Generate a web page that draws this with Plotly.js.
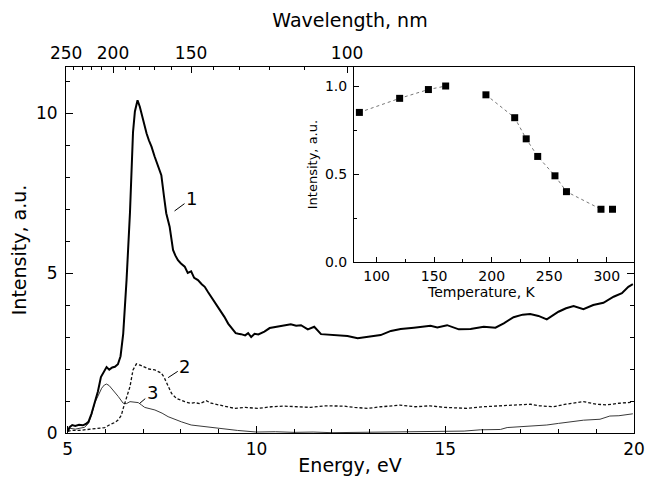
<!DOCTYPE html>
<html>
<head>
<meta charset="utf-8">
<script src="https://cdn.plot.ly/plotly-3.0.1.min.js"></script>
<style>html,body{margin:0;padding:0;background:#fff;}#chart{width:649px;height:481px;}</style>
</head>
<body>
<div id="chart"></div>
<script>
// ---- Curve 1 (solid, thick) ----
const energy1 = [5.00,5.05,5.12,5.20,5.30,5.40,5.48,5.55,5.63,5.72,5.80,5.88,5.95,6.03,6.10,6.18,6.25,6.33,6.40,6.47,6.56,6.65,6.73,6.78,6.82,6.85,6.91,6.97,7.03,7.09,7.15,7.22,7.30,7.39,7.48,7.55,7.61,7.70,7.75,7.79,7.85,7.92,8.00,8.10,8.18,8.27,8.35,8.45,8.55,8.63,8.72,8.80,8.90,8.98,9.05,9.15,9.25,9.37,9.45,9.52,9.59,9.70,9.78,9.86,9.95,10.05,10.21,10.35,10.56,10.70,10.91,11.05,11.18,11.36,11.53,11.71,11.85,12.06,12.41,12.68,13.03,13.29,13.56,13.82,14.17,14.44,14.61,14.79,15.05,15.36,15.67,16.02,16.33,16.55,16.81,17.05,17.25,17.47,17.69,18.00,18.20,18.40,18.66,18.92,19.19,19.46,19.68,19.85,19.97];
const intensity1 = [0.05,0.18,0.25,0.22,0.26,0.24,0.28,0.35,0.60,0.98,1.30,1.75,1.90,2.06,1.98,2.05,2.07,2.15,2.40,3.10,4.80,6.90,9.40,10.05,10.25,10.40,10.20,9.90,9.60,9.36,9.15,8.95,8.65,8.32,8.06,7.40,6.87,6.45,5.95,5.72,5.55,5.40,5.30,5.20,5.00,5.05,4.85,4.78,4.65,4.57,4.40,4.26,4.08,3.95,3.80,3.63,3.42,3.22,3.12,3.10,3.09,3.05,3.12,3.00,3.10,3.08,3.17,3.28,3.32,3.36,3.40,3.35,3.37,3.24,3.32,3.09,3.08,3.06,3.03,2.96,3.01,3.06,3.19,3.25,3.29,3.32,3.35,3.30,3.37,3.24,3.25,3.32,3.29,3.43,3.62,3.70,3.72,3.66,3.55,3.79,3.90,3.97,3.87,4.00,4.07,4.26,4.37,4.57,4.65];

// ---- Curve 2 (dashed) ----
const energy2 = [5.00,5.10,5.30,5.50,5.70,5.90,5.98,6.10,6.25,6.34,6.42,6.47,6.52,6.56,6.60,6.65,6.73,6.82,6.92,7.04,7.15,7.31,7.40,7.48,7.55,7.61,7.68,7.75,7.88,8.00,8.10,8.25,8.36,8.50,8.67,8.80,8.89,9.10,9.42,9.70,10.03,10.40,10.74,11.10,11.44,11.80,12.32,12.60,12.94,13.30,13.80,14.20,14.60,15.00,15.58,16.00,16.50,16.90,17.25,17.50,17.87,18.20,18.66,19.00,19.28,19.60,19.97];
const intensity2 = [0.05,0.08,0.08,0.10,0.12,0.15,0.17,0.25,0.33,0.41,0.55,0.77,0.95,1.08,1.28,1.45,1.97,2.16,2.12,2.07,2.00,1.97,1.92,1.87,1.75,1.60,1.40,1.24,1.08,1.02,0.98,0.93,0.95,0.92,1.01,0.93,0.91,0.85,0.77,0.80,0.77,0.82,0.84,0.82,0.80,0.85,0.84,0.80,0.77,0.82,0.87,0.82,0.85,0.80,0.77,0.82,0.85,0.88,0.90,0.85,0.82,0.90,0.98,0.90,0.88,0.93,0.96];

// ---- Curve 3 (thin solid) ----
const energy3 = [5.00,5.05,5.20,5.35,5.45,5.55,5.63,5.72,5.81,5.90,5.97,6.03,6.10,6.20,6.34,6.47,6.56,6.65,6.75,6.87,6.95,7.04,7.31,7.50,7.66,7.85,8.01,8.27,8.60,9.00,9.50,10.00,10.50,11.00,11.50,12.00,12.50,13.00,13.50,14.00,14.50,15.00,15.50,15.93,16.20,16.46,16.64,17.00,17.25,17.69,18.00,18.22,18.66,19.10,19.36,19.60,19.80,19.97];
const intensity3 = [0.05,0.15,0.12,0.15,0.18,0.30,0.55,0.95,1.20,1.40,1.50,1.53,1.48,1.35,1.14,0.93,0.92,0.98,0.97,0.95,0.88,0.80,0.72,0.62,0.51,0.42,0.35,0.25,0.20,0.15,0.08,0.03,0.04,0.02,0.03,0.01,0.02,0.02,0.03,0.04,0.05,0.05,0.06,0.10,0.10,0.11,0.17,0.20,0.22,0.25,0.30,0.33,0.40,0.43,0.53,0.54,0.56,0.60];

// ---- Inset: intensity vs temperature ----
const temperature = [85,120,145,160,195,220,230,240,255,265,295,305];
const insetIntensity = [0.85,0.93,0.98,1.00,0.95,0.82,0.70,0.60,0.49,0.40,0.30,0.30];
// dotted connecting line (gap between 160 K and 195 K)
const lineTemperature = [85,120,145,160,null,195,220,230,240,255,265,295];
const lineIntensity = [0.85,0.93,0.98,1.00,null,0.95,0.82,0.70,0.60,0.49,0.40,0.30];

// ---- Top axis: wavelength labels (nm), converted to eV via E = 1240/λ ----
const wavelengthMajor = [250,200,150,100];
const wavelengthMinor = [240,230,220,210,190,180,170,160,140,130,120,110,90,80,70];

// curve labels
const curveLabels = ['1','2','3'];
const labelPos = [[8.28,7.33],[8.10,2.07],[7.24,1.26]];
const labelTip = [[7.83,6.94],[7.66,1.73],[6.91,0.93]];

const FONT = 'DejaVu Sans, Verdana, sans-serif';

const traces = [
  {x: energy3, y: intensity3, mode:'lines', line:{color:'#3a3a3a', width:1}, xaxis:'x', yaxis:'y', hoverinfo:'skip'},
  {x: energy2, y: intensity2, mode:'lines', line:{color:'#111', width:1.3, dash:'3px,2px'}, xaxis:'x', yaxis:'y', hoverinfo:'skip'},
  {x: energy1, y: intensity1, mode:'lines', line:{color:'#000', width:2}, xaxis:'x', yaxis:'y', hoverinfo:'skip'},
  {x: [], y: [], xaxis:'x2', yaxis:'y', mode:'lines', hoverinfo:'skip'},
  {x: lineTemperature, y: lineIntensity, mode:'lines', connectgaps:false, line:{color:'#777', width:1, dash:'dot'}, xaxis:'x3', yaxis:'y3', hoverinfo:'skip'},
  {x: temperature, y: insetIntensity, mode:'markers', marker:{symbol:'square', size:7, color:'#000'}, xaxis:'x3', yaxis:'y3', hoverinfo:'skip'}
];

const annotations = curveLabels.map((t,i)=>({
  x: labelTip[i][0], y: labelTip[i][1], xref:'x', yref:'y',
  ax: labelPos[i][0], ay: labelPos[i][1], axref:'x', ayref:'y',
  text: t, showarrow:true, arrowhead:0, arrowwidth:1, arrowcolor:'#000',
  font:{family:FONT, size:18, color:'#000'}
}));
annotations.push({
  text:'Temperature, K', xref:'paper', yref:'paper', x:0.7315, y:0.386,
  xanchor:'center', yanchor:'middle', showarrow:false,
  font:{family:FONT, size:14, color:'#000'}
});

const layout = {
  width:649, height:481,
  margin:{l:66, r:15, t:67, b:48},
  paper_bgcolor:'#fff', plot_bgcolor:'#fff',
  showlegend:false,
  font:{family:FONT, color:'#000'},
  xaxis:{
    domain:[0,1], range:[4.955,20], anchor:'y',
    tickmode:'linear', tick0:0, dtick:5,
    ticks:'inside', ticklen:7, tickwidth:1, tickcolor:'#000',
    minor:{dtick:1, tick0:0, ticks:'inside', ticklen:4, tickcolor:'#000'},
    showline:true, linecolor:'#000', linewidth:1, mirror:true,
    showgrid:false, zeroline:false,
    tickfont:{family:FONT, size:17, color:'#000'},
    ticklabelstandoff:1,
    title:{text:'Energy, eV', font:{family:FONT, size:19, color:'#000'}, standoff:0},
    automargin:false
  },
  xaxis2:{
    overlaying:'x', side:'top', anchor:'y', range:[4.955,20],
    tickmode:'array',
    tickvals: wavelengthMajor.map(l=>1240/l),
    ticktext: wavelengthMajor.map(String),
    ticks:'inside', ticklen:6, tickwidth:1, tickcolor:'#000',
    minor:{tickmode:'array', tickvals: wavelengthMinor.map(l=>1240/l), ticks:'inside', ticklen:3, tickcolor:'#000'},
    showline:true, linecolor:'#000', linewidth:1,
    showgrid:false, zeroline:false,
    tickfont:{family:FONT, size:17, color:'#000'},
    title:{text:'Wavelength, nm', font:{family:FONT, size:19, color:'#000'}, standoff:10},
    automargin:false
  },
  yaxis:{
    domain:[0,1], range:[0,11.44], anchor:'x',
    tickmode:'linear', tick0:0, dtick:5,
    ticks:'inside', ticklen:7, tickwidth:1, tickcolor:'#000',
    minor:{dtick:1, tick0:0, ticks:'inside', ticklen:4, tickcolor:'#000'},
    showline:true, linecolor:'#000', linewidth:1, mirror:'ticks',
    showgrid:false, zeroline:false,
    tickfont:{family:FONT, size:17, color:'#000'},
    ticklabelstandoff:4,
    title:{text:'Intensity, a.u.', font:{family:FONT, size:19, color:'#000'}, standoff:4},
    automargin:false
  },
  xaxis3:{
    domain:[0.507,1], range:[80.3,323.7], anchor:'y3',
    tickmode:'linear', tick0:0, dtick:50,
    ticks:'inside', ticklen:5, tickwidth:1, tickcolor:'#000',
    minor:{dtick:25, tick0:0, ticks:'inside', ticklen:3, tickcolor:'#000'},
    showline:true, linecolor:'#000', linewidth:1, mirror:false,
    showgrid:false, zeroline:false,
    tickfont:{family:FONT, size:14, color:'#000'},
    ticklabelstandoff:1
  },
  yaxis3:{
    domain:[0.467,1], range:[0,1.108], anchor:'x3',
    tickmode:'linear', tick0:0, dtick:0.5, tickformat:'.1f',
    ticks:'inside', ticklen:5, tickwidth:1, tickcolor:'#000',
    minor:{dtick:0.25, tick0:0, ticks:'inside', ticklen:3, tickcolor:'#000'},
    showline:true, linecolor:'#000', linewidth:1, mirror:false,
    showgrid:false, zeroline:false,
    tickfont:{family:FONT, size:14, color:'#000'},
    ticklabelstandoff:3,
    title:{text:'Intensity, a.u.', font:{family:FONT, size:13, color:'#000'}, standoff:4}
  },
  annotations: annotations
};

Plotly.newPlot('chart', traces, layout, {staticPlot:true, displayModeBar:false});
</script>
</body>
</html>
